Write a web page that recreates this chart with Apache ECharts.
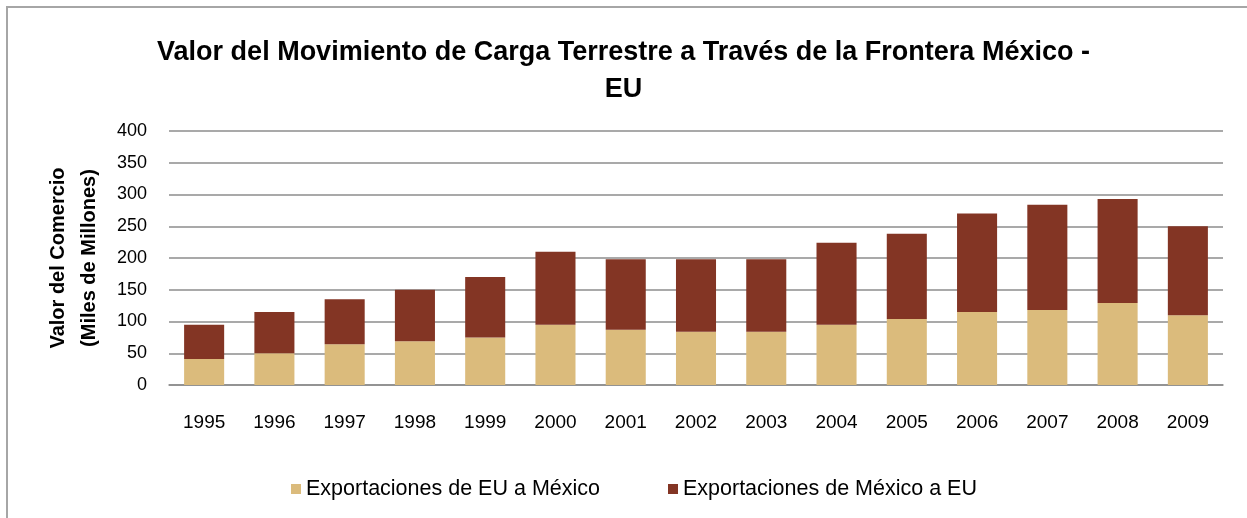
<!DOCTYPE html>
<html>
<head>
<meta charset="utf-8">
<title>Valor del Movimiento de Carga Terrestre</title>
<script src="https://cdn.jsdelivr.net/npm/echarts@6/dist/echarts.min.js"></script>
<style>
  html, body { margin: 0; padding: 0; background: #fff; overflow: hidden; }
  #frame { position: absolute; left: 6px; top: 6px; width: 1400px; height: 700px; border: 2px solid #a6a6a6; box-sizing: border-box; }
  #chart { position: absolute; left: 0; top: 0; width: 1247px; height: 518px; }
</style>
</head>
<body>
<div id="frame"></div>
<div id="chart"></div>
<script>
  // datos (miles de millones)
  const years = ["1995", "1996", "1997", "1998", "1999", "2000", "2001", "2002",
    "2003", "2004", "2005", "2006", "2007", "2008", "2009"];
  const expEUaMexico = [41, 50, 64, 69, 75, 95, 87, 84, 84, 95, 104, 115, 118, 129, 110];
  const expMexicoaEU = [54, 65, 71, 81, 95, 115, 111, 114, 114, 129, 134, 155, 166, 164, 140];
  const seriesNames = ["Exportaciones de EU a México", "Exportaciones de México a EU"];
  const colors = ["#dbbb7c", "#833524"];

  const font = "'Liberation Sans', Arial, sans-serif";
  const myChart = echarts.init(document.getElementById("chart"), null, { renderer: "canvas" });

  const option = {
    color: colors,
    animation: false,
    title: {
      text: "Valor del Movimiento de Carga Terrestre a Través de la Frontera México -\nEU",
      left: "center",
      top: 29,
      textStyle: {
        fontFamily: font,
        fontWeight: "bold",
        fontSize: 27,
        lineHeight: 37,
        color: "#000"
      }
    },
    legend: {
      data: seriesNames,
      top: 473,
      left: 286,
      itemWidth: 10,
      itemHeight: 10,
      itemGap: 68,
      icon: "rect",
      textStyle: { fontFamily: font, fontSize: 21.5, color: "#000" }
    },
    grid: {
      left: 169,
      right: 24,
      top: 131,
      bottom: 133,
      containLabel: false
    },
    xAxis: {
      type: "category",
      data: years,
      axisLine: { lineStyle: { color: "#8c8c8c", width: 1.5 } },
      axisTick: { show: false },
      axisLabel: { fontFamily: font, fontSize: 19, color: "#000", margin: 28 }
    },
    yAxis: {
      type: "value",
      min: 0,
      max: 400,
      interval: 50,
      name: "Valor del Comercio\n(Miles de Millones)",
      nameLocation: "middle",
      nameRotate: 90,
      nameGap: 64,
      nameTextStyle: { fontFamily: font, fontWeight: "bold", fontSize: 20, lineHeight: 31, color: "#000" },
      axisLine: { show: false },
      axisTick: { show: false },
      axisLabel: { fontFamily: font, fontSize: 18, color: "#000", margin: 22 },
      splitLine: { lineStyle: { color: "#8c8c8c", width: 1.5 } }
    },
    series: [
      {
        name: seriesNames[0],
        type: "bar",
        stack: "total",
        barWidth: "57%",
        data: expEUaMexico
      },
      {
        name: seriesNames[1],
        type: "bar",
        stack: "total",
        barWidth: "57%",
        data: expMexicoaEU
      }
    ]
  };

  myChart.clear();
  myChart.setOption(option);
</script>
</body>
</html>
